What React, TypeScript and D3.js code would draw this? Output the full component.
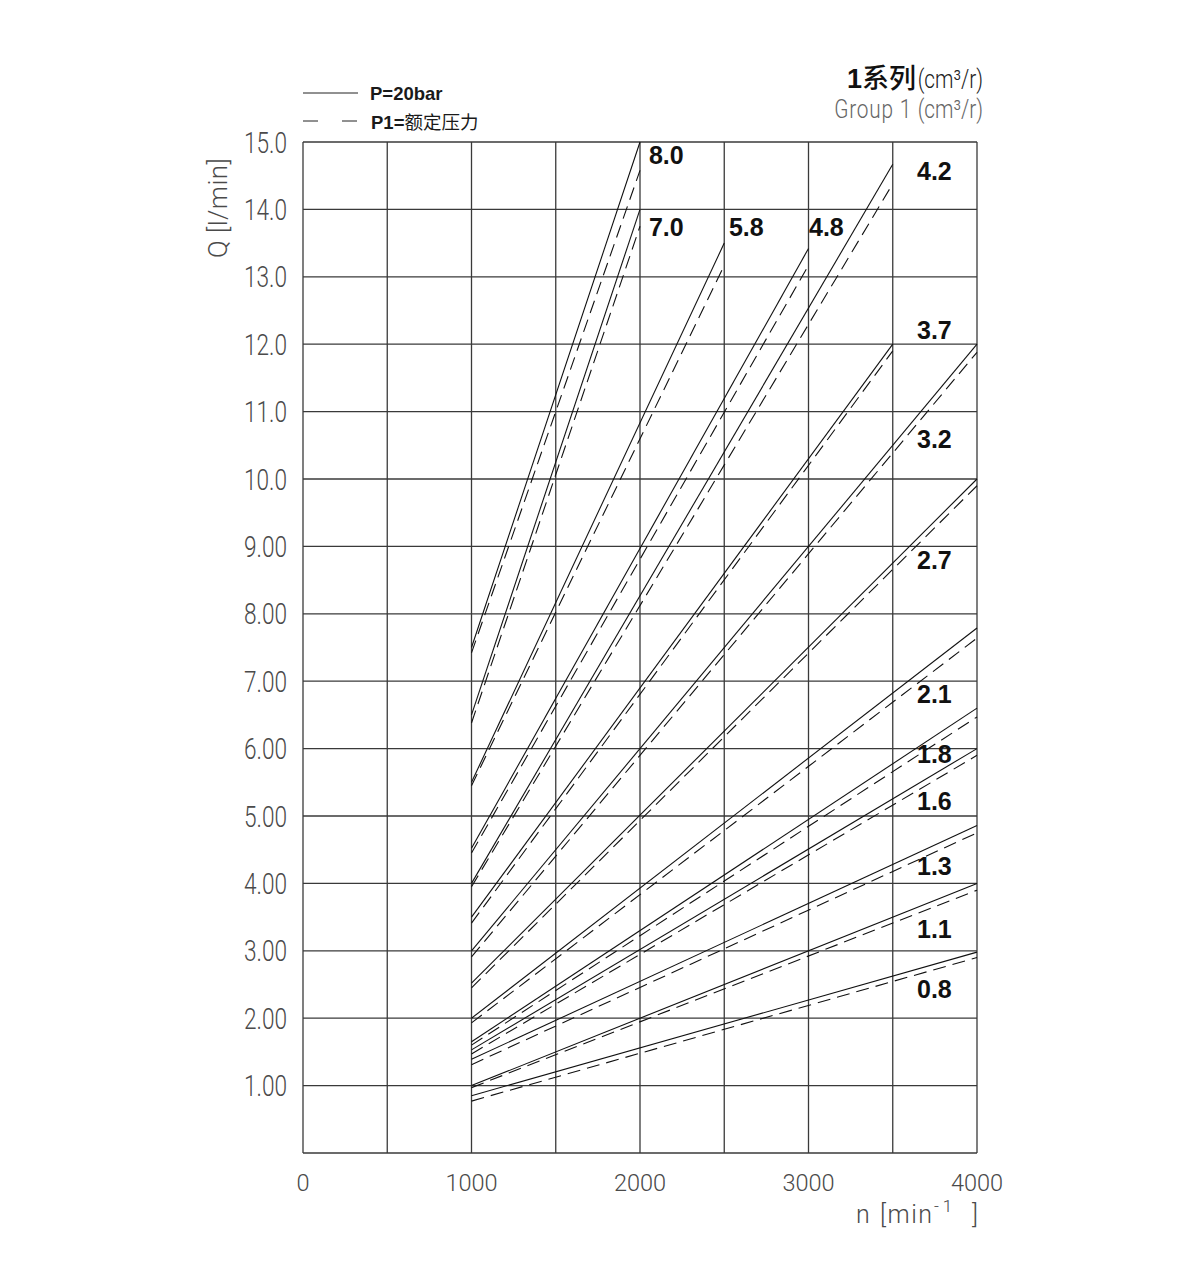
import React from "react";
import * as d3 from "d3";

// ---- data ----
const displacements = ["8.0", "7.0", "5.8", "4.8", "4.2", "3.7", "3.2", "2.7", "2.1", "1.8", "1.6", "1.3", "1.1", "0.8"];
const speedStart = [1000, 1000, 1000, 1000, 1000, 1000, 1000, 1000, 1000, 1000, 1000, 1000, 1000, 1000];
const speedEnd = [2000, 2000, 2500, 3000, 3500, 3500, 4000, 4000, 4000, 4000, 4000, 4000, 4000, 4000];
const flowStartSolid = [7.5, 6.5, 5.5, 4.52, 4.0, 3.5, 3.0, 2.52, 2.0, 1.65, 1.53, 1.39, 1.0, 0.85];
const flowEndSolid = [15.0, 14.0, 13.5, 13.42, 14.67, 12.0, 12.0, 10.0, 7.79, 6.6, 6.0, 4.86, 4.0, 2.98];
const flowStartDashed = [7.42, 6.38, 5.45, 4.45, 3.95, 3.41, 2.91, 2.45, 1.93, 1.6, 1.47, 1.31, 0.97, 0.77];
const flowEndDashed = [14.58, 13.75, 13.17, 13.17, 14.38, 11.9, 11.88, 9.9, 7.64, 6.47, 5.9, 4.75, 3.9, 2.9];
const labelSpeed = [2053, 2053, 2528, 3003, 3644, 3644, 3644, 3644, 3644, 3644, 3644, 3644, 3644, 3644];
const labelFlow = [14.68, 13.61, 13.6, 13.6, 14.43, 12.07, 10.46, 8.66, 6.67, 5.78, 5.09, 4.12, 3.19, 2.3];

const xTickLabels = ["0", "1000", "2000", "3000", "4000"];
const yTickLabels = ["1.00", "2.00", "3.00", "4.00", "5.00", "6.00", "7.00", "8.00", "9.00", "10.0", "11.0", "12.0", "13.0", "14.0", "15.0"];
const xDomain = [0, 4000];
const yDomain = [0, 15];

function CadText({ x, y, children, anchor = "start", size = 26, sx = 0.8, fill = "#555", rotate = 0, spacing = 0 }: any) {
  return (
    <text
      transform={`translate(${x},${y}) rotate(${rotate}) scale(${sx},1)`}
      textAnchor={anchor}
      fontFamily="Roboto"
      fontWeight={300}
      fontSize={size}
      fill={fill}
      letterSpacing={spacing}
    >
      {children}
    </text>
  );
}

export default function App() {
  const W = 1200;
  const H = 1277;
  const x = d3.scaleLinear().domain(xDomain).range([303, 977]);
  const y = d3.scaleLinear().domain(yDomain).range([1153, 142]);
  const line = d3
    .line<[number, number]>()
    .x((d) => x(d[0]))
    .y((d) => y(d[1]));

  const series = displacements.map((label, i) => ({
    label,
    solid: [
      [speedStart[i], flowStartSolid[i]],
      [speedEnd[i], flowEndSolid[i]],
    ] as [number, number][],
    dashed: [
      [speedStart[i], flowStartDashed[i]],
      [speedEnd[i], flowEndDashed[i]],
    ] as [number, number][],
    ln: labelSpeed[i],
    lq: labelFlow[i],
  }));

  const vGrid = d3.range(0, 4001, 500);
  const hGrid = d3.range(0, 16, 1);
  const gridColor = "#3a3a3a";
  const tickFill = "#4a4a4a";

  return (
    <svg width={W} height={H} style={{ position: "absolute", left: 0, top: 0, background: "#fff" }}>
      <rect x={0} y={0} width={W} height={H} fill="#fff" />
      {/* grid */}
      <g stroke={gridColor} strokeWidth={1.3} fill="none">
        {vGrid.map((v) => (
          <line key={"v" + v} x1={x(v)} x2={x(v)} y1={y(0)} y2={y(15)} />
        ))}
        {hGrid.map((v) => (
          <line key={"h" + v} x1={x(0)} x2={x(4000)} y1={y(v)} y2={y(v)} />
        ))}
      </g>

      {/* data lines */}
      <g fill="none" stroke="#111" strokeWidth={1.1}>
        {series.map((s) => (
          <g key={s.label}>
            <path d={line(s.solid) || ""} />
            <path d={line(s.dashed) || ""} strokeDasharray="13,7" />
          </g>
        ))}
      </g>

      {/* displacement labels */}
      {series.map((s) => (
        <text
          key={"l" + s.label}
          x={x(s.ln)}
          y={y(s.lq)}
          fontFamily="'Liberation Sans', Arial, sans-serif"
          fontWeight="bold"
          fontSize={25}
          fill="#111"
        >
          {s.label}
        </text>
      ))}

      {/* y ticks */}
      {yTickLabels.map((t) => (
        <CadText key={"yt" + t} x={287} y={y(parseFloat(t)) + 10.5} anchor="end" size={29} sx={0.78} fill={tickFill}>
          {t}
        </CadText>
      ))}
      {/* x ticks */}
      {xTickLabels.map((t) => (
        <CadText key={"xt" + t} x={x(parseFloat(t))} y={1191} anchor="middle" size={24} sx={0.98} fill={tickFill}>
          {t}
        </CadText>
      ))}

      {/* axis titles */}
      <CadText x={227} y={258} rotate={-90} size={26} sx={1} fill={tickFill} spacing={0.5}>
        Q [l/min]
      </CadText>
      <CadText x={856} y={1223} size={25} sx={1} fill={tickFill}>n</CadText>
      <CadText x={880} y={1223} size={25} sx={1} fill={tickFill} spacing={1.5}>[min</CadText>
      <CadText x={934} y={1212} size={17} sx={1} fill={tickFill} spacing={4}>-1</CadText>
      <CadText x={978} y={1223} anchor="end" size={25} sx={1} fill={tickFill}>]</CadText>

      {/* legend */}
      <line x1={303} x2={358} y1={93} y2={93} stroke="#222" strokeWidth={1} />
      <text x={370} y={100} fontFamily="'Liberation Sans', Arial, sans-serif" fontWeight="bold" fontSize={18.5} fill="#1a1a1a">
        P=20bar
      </text>
      <line x1={303} x2={358} y1={121} y2={121} stroke="#222" strokeWidth={1} strokeDasharray="15,24" />
      <text x={371} y={129} fontSize={18.5} fill="#1a1a1a">
        <tspan fontFamily="'Liberation Sans', Arial, sans-serif" fontWeight="bold">P1=</tspan>
        <tspan fontFamily="'Noto Sans CJK SC', sans-serif">额定压力</tspan>
      </text>

      {/* group title */}
      <text x={916} y={88} textAnchor="end" fontSize={27} fill="#111">
        <tspan fontFamily="'Liberation Sans', Arial, sans-serif" fontWeight="bold">1</tspan>
        <tspan fontFamily="'Noto Sans CJK SC', sans-serif" fontWeight={500}>系列</tspan>
      </text>
      <CadText x={983} y={88} anchor="end" size={26} sx={0.8} fill="#222">
        (cm³/r)
      </CadText>
      <CadText x={912} y={118} anchor="end" size={26} sx={0.8} fill="#666" spacing={1}>
        Group 1
      </CadText>
      <CadText x={983} y={118} anchor="end" size={26} sx={0.8} fill="#666">
        (cm³/r)
      </CadText>
    </svg>
  );
}
